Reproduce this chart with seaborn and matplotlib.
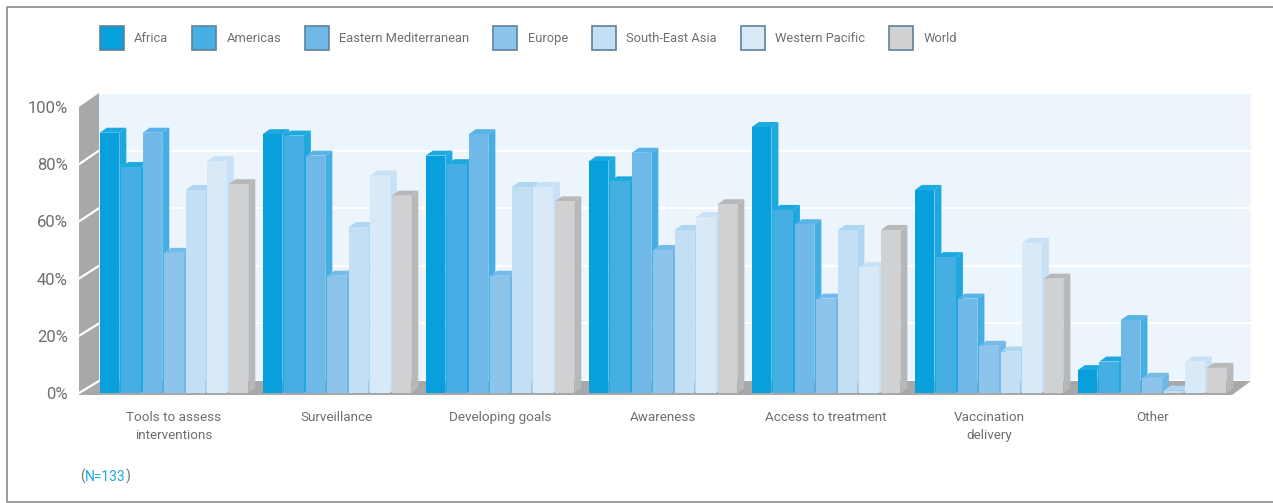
import matplotlib
matplotlib.use('Agg')
import matplotlib.pyplot as plt
from matplotlib.patches import Polygon, Patch
from matplotlib.lines import Line2D
import pandas as pd
import seaborn as sns

categories = ['Tools to assess\ninterventions', 'Surveillance', 'Developing goals', 'Awareness',
              'Access to treatment', 'Vaccination\ndelivery', 'Other']
regions = ['Africa', 'Americas', 'Eastern Mediterranean', 'Europe', 'South-East Asia', 'Western Pacific', 'World']
africa = [91, 90.5, 83, 81, 93, 71, 8]
americas = [79, 90, 80, 74, 64, 47.5, 11]
east_med = [91, 83, 90.5, 84, 59, 33, 25.5]
europe = [49, 41, 41, 50, 33, 16.5, 5.3]
se_asia = [71, 58, 72, 57, 57, 14.5, 0.8]
w_pacific = [81, 76, 72, 61.5, 44, 52.5, 11]
world = [73, 69, 67, 66, 57, 40, 8.8]
y_ticks = [0, 20, 40, 60, 80, 100]

face_cols = ['#079fdc', '#45afe4', '#6fb8e8', '#8cc4ec', '#c4dff4', '#d8e9f8', '#d0d1d3']
side_cols = ['#1ea8e0', '#1ea8e0', '#45afe4', '#6fb8e8', '#add6f3', '#c9e1f6', '#b7b8ba']
top_cols = ['#1ea8e0', '#1ea8e0', '#5ab3e6', '#74bbea', '#add6f3', '#c9e1f6', '#b7b8ba']

W, H = 1273, 503
GREY = '#6d6e71'

df = pd.DataFrame({'cat': categories * 7,
                   'region': [r for r in regions for _ in categories],
                   'val': africa + americas + east_med + europe + se_asia + w_pacific + world})

sns.set_theme(style='white')
plt.rcParams['font.family'] = ['Roboto', 'Liberation Sans', 'DejaVu Sans']

fig = plt.figure(figsize=(W / 100, H / 100), dpi=100)


def box(x0, y0, x1, y1):
    return [x0 / W, 1 - y1 / H, (x1 - x0) / W, (y1 - y0) / H]


def pts(*xy):
    return [(x / W, 1 - y / H) for x, y in xy]


# back wall is its own axes, moved up and right from the front plane
back = fig.add_axes(box(99, 93, 1251, 381), facecolor='#ecf5fc', zorder=-3)
back.set_ylim(0, 100)
back.set_yticks(y_ticks)
back.set_xticks([])
back.set_yticklabels([])
back.grid(axis='y', color='white', lw=1.6)
back.tick_params(length=0)
sns.despine(ax=back, left=True, bottom=True)

# left wall and floor
fig.add_artist(Polygon(pts((79, 107), (99, 93), (99, 381), (79, 393)),
                       transform=fig.transFigure, fc='#a7a8aa', ec='none', zorder=-2))
fig.add_artist(Polygon(pts((79, 393), (99, 381), (1251, 381), (1232, 395), (79, 395)),
                       transform=fig.transFigure, fc='#a7a8aa', ec='none', zorder=-2))
for t in y_ticks[:-1]:
    y0 = 393 - t * 2.86
    y1 = 381 - t * 2.88
    fig.add_artist(Line2D(*zip(*pts((79, y0), (99, y1))), color='white', lw=1.6, zorder=-1))

ax = fig.add_axes(box(79, 107, 1232, 393), facecolor='none')
sns.barplot(data=df, x='cat', y='val', hue='region', hue_order=regions, palette=face_cols, saturation=1,
            width=0.923, gap=0.09, dodge=True, legend=False, ax=ax, linewidth=0)
ax.set_xlim(-0.583, 6.49)
ax.set_ylim(0, 100)
ax.set_xlabel('')
ax.set_ylabel('')
ax.set_yticks(y_ticks)
ax.set_yticklabels([f'{t}%' for t in y_ticks], fontsize=12, color=GREY)
ax.tick_params(axis='y', length=0, pad=8)
ax.tick_params(axis='x', length=0, pad=13, labelsize=9.7, labelcolor=GREY)
for lab in ax.get_xticklabels():
    lab.set_linespacing(1.5)
sns.despine(ax=ax, left=True, bottom=True)

# depth of the bars, in data units
dx = 7 / 163
dy = 5 / 2.86
bars = [p for p in ax.patches if p.get_height() > 0]
for i, p in enumerate(bars):
    k = i // 7
    x0, w, h = p.get_x(), p.get_width(), p.get_height()
    order = 3 + p.get_x()
    p.set_zorder(order + 0.02)
    ax.add_patch(Polygon([(x0 + w, 0), (x0 + w + dx, dy), (x0 + w + dx, h + dy), (x0 + w, h)],
                         fc=side_cols[k], ec='none', zorder=order, clip_on=False))
    ax.add_patch(Polygon([(x0, h), (x0 + dx, h + dy), (x0 + w + dx, h + dy), (x0 + w, h)],
                         fc=top_cols[k], ec='none', zorder=order + 0.01, clip_on=False))

handles = [Patch(fc=c, ec='#5f8199', lw=1.2) for c in face_cols]
fig.legend(handles, regions, ncol=7, loc='upper left', bbox_to_anchor=(99.5 / W, 1 - 26 / H), frameon=False,
           fontsize=9.3, labelcolor=GREY, handlelength=1.86, handleheight=2.48, handletextpad=0.81,
           columnspacing=1.84, borderpad=0, borderaxespad=0)

# note under the chart, brackets in grey and the count in blue
t1 = fig.text(80 / W, 1 - 481 / H, '(', fontsize=10, color=GREY)
t2 = ax.annotate('N=133', xy=(1, 0), xycoords=t1, fontsize=10, color='#1ea8e0', va='bottom')
ax.annotate(')', xy=(1, 0), xycoords=t2, fontsize=10, color=GREY, va='bottom')

# page frame
fig.add_artist(Line2D(*zip(*pts((W, 7), (6.5, 7), (6.5, 502), (W, 502))), color='#8a8b8d', lw=1.2))

fig.savefig('out.png', dpi=100)
